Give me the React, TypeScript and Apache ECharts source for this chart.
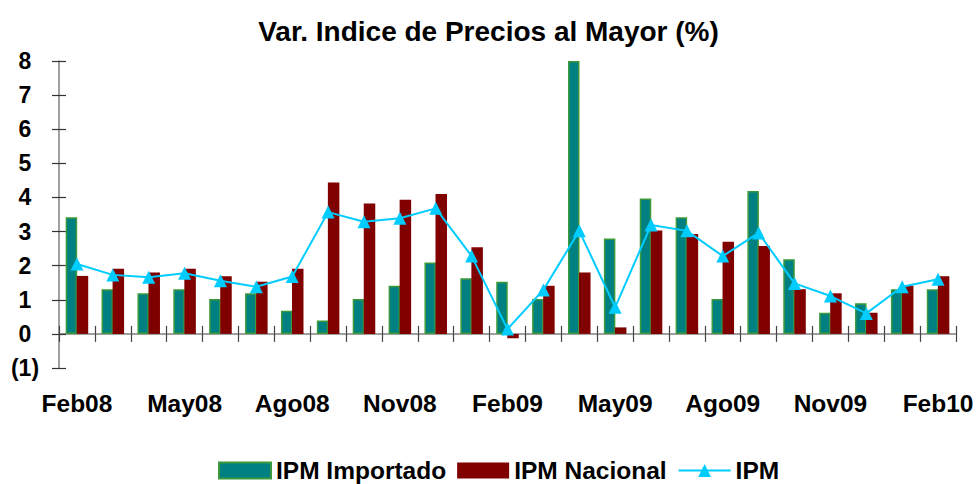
import React, { useEffect, useRef } from "react";
import * as echarts from "echarts";

const categories = [
  "Feb08", "Mar08", "Abr08", "May08", "Jun08", "Jul08", "Ago08", "Sep08", "Oct08",
  "Nov08", "Dic08", "Ene09", "Feb09", "Mar09", "Abr09", "May09", "Jun09", "Jul09",
  "Ago09", "Sep09", "Oct09", "Nov09", "Dic09", "Ene10", "Feb10",
];

const ipmImportado = [
  3.42, 1.31, 1.19, 1.31, 1.02, 1.19, 0.68, 0.39, 1.02, 1.41, 2.09, 1.63, 1.53,
  1.02, 8.0, 2.8, 3.97, 3.42, 1.02, 4.19, 2.19, 0.62, 0.9, 1.31, 1.31,
];

const ipmNacional = [
  1.7, 1.91, 1.8, 1.91, 1.69, 1.53, 1.91, 4.44, 3.82, 3.93, 4.1, 2.54, -0.13,
  1.41, 1.8, 0.19, 3.03, 2.93, 2.7, 2.58, 1.31, 1.19, 0.62, 1.41, 1.69,
];

const ipm = [
  2.05, 1.73, 1.66, 1.78, 1.56, 1.38, 1.68, 3.57, 3.29, 3.39, 3.68, 2.28, 0.14,
  1.29, 3.02, 0.78, 3.19, 3.02, 2.28, 2.96, 1.48, 1.11, 0.6, 1.38, 1.6,
];

const yMin = -1;
const yMax = 8;
const yInterval = 1;

const FONT = "'Liberation Sans', Arial, sans-serif";

export default function App() {
  const ref = useRef<HTMLDivElement>(null);

  useEffect(() => {
    if (!ref.current) return;
    const chart = echarts.init(ref.current, undefined, { renderer: "svg" });
    const yLabel = (v: number) => (v < 0 ? `(${-v})` : `${v}`);
    chart.setOption({
      animation: false,
      backgroundColor: "#ffffff",
      title: {
        text: "Var. Indice de Precios al Mayor (%)",
        left: "center",
        top: 12,
        textStyle: { fontFamily: FONT, fontSize: 28, fontWeight: "bold", color: "#000" },
      },
      legend: {
        left: 213,
        top: 453,
        itemWidth: 52,
        itemHeight: 16,
        itemGap: 11,
        textStyle: {
          fontFamily: FONT,
          fontSize: 24.5,
          lineHeight: 24,
          fontWeight: "bold",
          color: "#000",
        },
        data: [
          { name: "IPM Importado", icon: "rect" },
          { name: "IPM Nacional", icon: "rect" },
          { name: "IPM" },
        ],
      },
      grid: { left: 59, right: 21, top: 61, bottom: 116 },
      xAxis: [
        {
          type: "category",
          data: categories,
          boundaryGap: true,
          axisLine: { onZero: true, lineStyle: { color: "#808080", width: 1.5 } },
          axisTick: { show: true, interval: 0, length: 8, lineStyle: { color: "#444", width: 1.2 } },
          axisLabel: {
            interval: 2,
            margin: 23,
            fontFamily: FONT,
            fontSize: 24.5,
            fontWeight: "bold",
            color: "#000",
          },
          splitLine: { show: false },
        },
        {
          type: "category",
          data: categories,
          position: "bottom",
          boundaryGap: true,
          axisLine: { show: false, onZero: true },
          axisTick: { show: true, inside: true, interval: 0, length: 8, lineStyle: { color: "#444", width: 1.2 } },
          axisLabel: { show: false },
          splitLine: { show: false },
        },
      ],
      yAxis: [
        {
          type: "value",
          min: yMin,
          max: yMax,
          interval: yInterval,
          axisLine: { show: true, lineStyle: { color: "#808080", width: 1.5 } },
          axisTick: { show: true, length: 7, lineStyle: { color: "#333", width: 1.2 } },
          axisLabel: {
            formatter: yLabel,
            align: "center",
            margin: 34,
            fontFamily: FONT,
            fontSize: 23,
            fontWeight: "bold",
            color: "#000",
          },
          splitLine: { show: false },
        },
        {
          type: "value",
          position: "left",
          min: yMin,
          max: yMax,
          interval: yInterval,
          axisLine: { show: false },
          axisTick: { show: true, inside: true, length: 7, lineStyle: { color: "#333", width: 1.2 } },
          axisLabel: { show: false },
          splitLine: { show: false },
        },
      ],
      series: [
        {
          name: "IPM Importado",
          type: "bar",
          data: ipmImportado,
          barWidth: 11.5,
          barGap: "-4%",
          itemStyle: { color: "#008080", borderColor: "#3c9a3c", borderWidth: 1.5 },
        },
        {
          name: "IPM Nacional",
          type: "bar",
          data: ipmNacional,
          barWidth: 11.5,
          itemStyle: { color: "#800000" },
        },
        {
          name: "IPM",
          type: "line",
          data: ipm,
          symbol: "triangle",
          symbolSize: 13,
          lineStyle: { color: "#00CCFF", width: 2 },
          itemStyle: { color: "#00CCFF" },
          z: 5,
        },
      ],
    });
    return () => chart.dispose();
  }, []);

  return (
    <div
      ref={ref}
      style={{ position: "absolute", left: 0, top: 0, width: 977, height: 484 }}
    />
  );
}
